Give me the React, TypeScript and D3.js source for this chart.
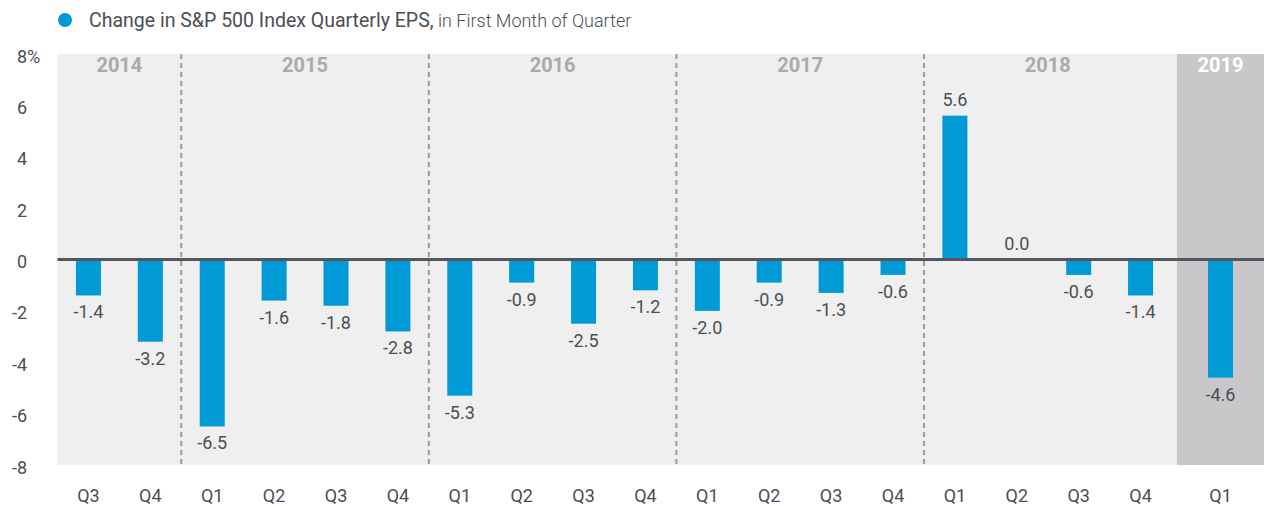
import React from "react";
import * as d3 from "d3";

// chart data
const years = [
  "2014", "2014",
  "2015", "2015", "2015", "2015",
  "2016", "2016", "2016", "2016",
  "2017", "2017", "2017", "2017",
  "2018", "2018", "2018", "2018",
  "2019",
];
const quarters = [
  "Q3", "Q4",
  "Q1", "Q2", "Q3", "Q4",
  "Q1", "Q2", "Q3", "Q4",
  "Q1", "Q2", "Q3", "Q4",
  "Q1", "Q2", "Q3", "Q4",
  "Q1",
];
const epsChange = [
  -1.4, -3.2,
  -6.5, -1.6, -1.8, -2.8,
  -5.3, -0.9, -2.5, -1.2,
  -2.0, -0.9, -1.3, -0.6,
  5.6, 0.0, -0.6, -1.4,
  -4.6,
];
const yTicks = [8, 6, 4, 2, 0, -2, -4, -6, -8];
const highlightYear = "2019";

const W = 1264;
const H = 506;
const FONT = "Roboto, 'Liberation Sans', sans-serif";
const TEXT = "#4a4e56";
const BAR = "#009bd6";

document.body.style.margin = "0";

const App = () => {
  const keys = years.map((y, i) => y + " " + quarters[i]);
  const pastKeys = keys.filter((k, i) => years[i] !== highlightYear);
  const hlKeys = keys.filter((k, i) => years[i] === highlightYear);

  const plotLeft = 57.5;
  const pastRight = 1171.5;
  const hlLeft = 1177;
  const plotRight = W;
  const barW = 25;

  const step = (pastRight - plotLeft) / pastKeys.length;
  const xPast = d3
    .scaleBand()
    .domain(pastKeys)
    .range([plotLeft, pastRight])
    .paddingInner(1 - barW / step)
    .paddingOuter((1 - barW / step) / 2);

  const hlStep = (plotRight - hlLeft) / hlKeys.length;
  const xHl = d3
    .scaleBand()
    .domain(hlKeys)
    .range([hlLeft, plotRight])
    .paddingInner(1 - barW / hlStep)
    .paddingOuter((1 - barW / hlStep) / 2);

  const xBar = (k: string) =>
    xPast(k) !== undefined ? (xPast(k) as number) : (xHl(k) as number);
  const xMid = (k: string) => xBar(k) + barW / 2;

  const y = d3.scaleLinear().domain([-8, 8]).range([465, 54]);

  // year groups: first/last index
  const yearNames = Array.from(new Set(years));
  const groups = yearNames.map((yr) => {
    const idx = years.map((v, i) => (v === yr ? i : -1)).filter((i) => i >= 0);
    return { year: yr, first: idx[0], last: idx[idx.length - 1] };
  });

  return (
    <svg width={W} height={H} style={{ display: "block" }} fontFamily={FONT}>
      {/* legend / title */}
      <circle cx={65} cy={20} r={7} fill={BAR} />
      <text x={89} y={27} fontSize={19.5} fill={TEXT}>
        <tspan fontWeight={400}>Change in S&amp;P 500 Index Quarterly EPS,</tspan>
        <tspan fontWeight={300} fontSize={18}> in First Month of Quarter</tspan>
      </text>

      {/* plot backgrounds */}
      <rect
        x={plotLeft}
        y={y(8)}
        width={hlLeft - plotLeft}
        height={y(-8) - y(8)}
        fill="#efefef"
      />
      <rect
        x={hlLeft}
        y={y(8)}
        width={plotRight - hlLeft}
        height={y(-8) - y(8)}
        fill="#c9c7ca"
      />

      {/* year dividers */}
      {groups.slice(1).map((g, i) => {
        if (g.year === highlightYear) return null;
        const prev = groups[i];
        const xd = (xMid(keys[prev.last]) + xMid(keys[g.first])) / 2;
        return (
          <line
            key={g.year}
            x1={xd}
            x2={xd}
            y1={y(8)}
            y2={y(-8)}
            stroke="#9c9c9c"
            strokeWidth={2}
            strokeDasharray="5 4"
          />
        );
      })}

      {/* year labels */}
      {groups.map((g) => {
        const cx =
          g.year === highlightYear
            ? (hlLeft + plotRight) / 2
            : (xMid(keys[g.first]) + xMid(keys[g.last])) / 2;
        return (
          <text
            key={g.year}
            x={cx}
            y={72}
            textAnchor="middle"
            fontSize={20}
            fontWeight={700}
            fill={g.year === highlightYear ? "#ffffff" : "#aaaaaa"}
          >
            {g.year}
          </text>
        );
      })}

      {/* y axis labels */}
      {yTicks.map((t) => (
        <g key={t}>
          <text
            x={27}
            y={y(t) + 8.5}
            textAnchor="end"
            fontSize={18}
            fill={TEXT}
          >
            {t}
          </text>
          {t === 8 && (
            <text x={27} y={y(t) + 8.5} fontSize={18} fill={TEXT}>
              %
            </text>
          )}
        </g>
      ))}

      {/* bars */}
      {keys.map((k, i) => {
        const v = epsChange[i];
        return (
          <rect
            key={k}
            x={xBar(k)}
            y={Math.min(y(v), y(0))}
            width={barW}
            height={Math.abs(y(v) - y(0))}
            fill={BAR}
          />
        );
      })}

      {/* zero line */}
      <line
        x1={plotLeft}
        x2={plotRight}
        y1={y(0)}
        y2={y(0)}
        stroke="#52565d"
        strokeWidth={3}
      />

      {/* value labels */}
      {keys.map((k, i) => {
        const v = epsChange[i];
        const ly = v < 0 ? y(v) + 23 : y(v) - 9.5;
        return (
          <text
            key={k}
            x={xMid(k)}
            y={ly}
            textAnchor="middle"
            fontSize={18}
            fill={TEXT}
          >
            {v.toFixed(1)}
          </text>
        );
      })}

      {/* quarter labels */}
      {keys.map((k, i) => (
        <text
          key={k}
          x={xMid(k)}
          y={502}
          textAnchor="middle"
          fontSize={18}
          fill={TEXT}
        >
          {quarters[i]}
        </text>
      ))}
    </svg>
  );
};

export default App;
